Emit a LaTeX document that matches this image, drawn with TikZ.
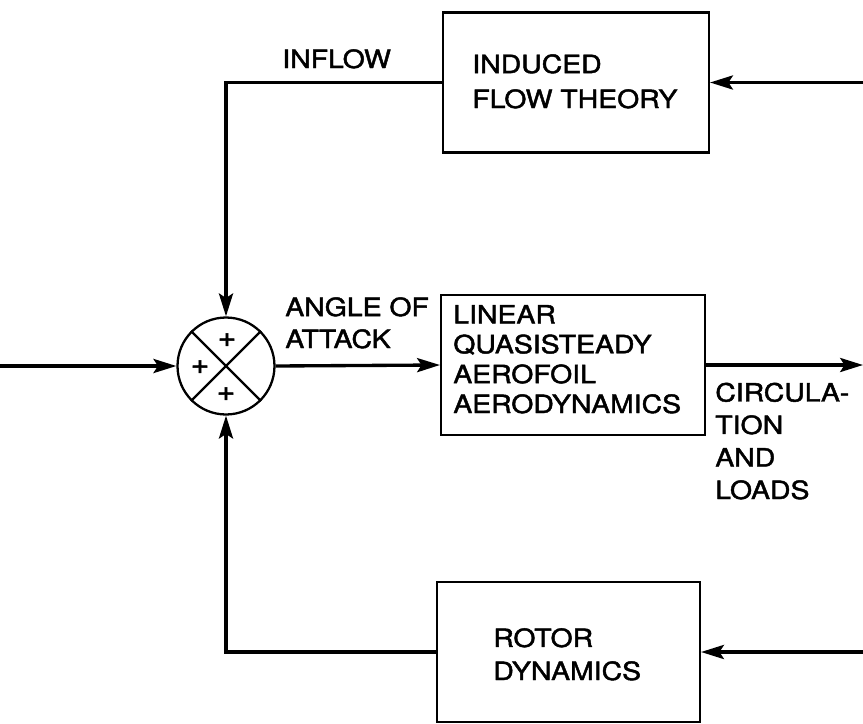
\documentclass[tikz,border=0pt]{standalone}
\usepackage{fontspec}
\setmainfont[FakeStretch=1.13, FakeBold=1.8]{TeX Gyre Heros}
\usetikzlibrary{arrows.meta}

\begin{document}
\begin{tikzpicture}[x=0.02cm, y=-0.02cm,
  block/.style={draw, rectangle, line width=1.2pt, minimum width=#1, minimum height=2.8cm, inner sep=0pt},
  lbl/.style={font=\fontsize{14.3}{#1}\selectfont, align=left, anchor=base west, inner sep=0pt},
  lbl/.default=17pt,
  sum_node/.style={circle, draw, line width=1.3pt, minimum size=1.94cm, inner sep=0pt},
  sign/.style={font=\fontsize{16}{16}\selectfont, inner sep=0pt},
  flow/.style={line width=1.9pt, -{Stealth[length=13pt, width=8pt, inset=2.5pt]}}]

	\useasboundingbox (0,0) rectangle (863,724);

	\node[block=5.32cm] (induced) at (576, 82.5) {};
	\node[block=5.28cm] (aero) at (573, 365) {};
	\node[block=5.26cm] (rotor) at (568.5, 652) {};
	\node[sum_node] (sum) at (226, 366) {};

	% signs of the summing junction
	\node[sign] (p_top) at (227, 340) {+};
	\node[sign] (p_left) at (200, 367) {+};
	\node[sign] (p_bot) at (226, 394) {+};
	\draw[line width=1.3pt] (sum.north west) -- (sum.south east)
		(sum.north east) -- (sum.south west);

	% labels, placed at the baseline of their last line
	\node[lbl] (inflow) at (282, 68) {INFLOW};
	\node[lbl=18.2pt] (aoa) at (285, 348) {ANGLE OF\\ATTACK};
	\node[lbl=19.9pt] (induced_txt) at (472, 108) {INDUCED\\FLOW THEORY};
	\node[lbl=17pt] (aero_txt) at (453, 413) {LINEAR\\QUASISTEADY\\AEROFOIL\\AERODYNAMICS};
	\node[lbl=18.5pt] (circ) at (715, 499) {CIRCULA-\\TION\\AND\\LOADS};
	\node[lbl=18.8pt] (rotor_txt) at (493, 680) {ROTOR\\DYNAMICS};

	\coordinate (src) at (0, 366);
	\coordinate (out) at (863, 365);
	\coordinate (fb_top) at (863, 82.5);
	\coordinate (fb_bot) at (863, 652);

	\draw[flow] (src) -- (sum.west);
	\draw[flow] (sum.east) -- (aero.west);
	\draw[flow] (aero.east) -- (out);
	\draw[flow] (fb_top) -- (induced.east);
	\draw[flow] (induced.west) -| (sum.north);
	\draw[flow] (fb_bot) -- (rotor.east);
	\draw[flow] (rotor.west) -| (sum.south);
\end{tikzpicture}
\end{document}
